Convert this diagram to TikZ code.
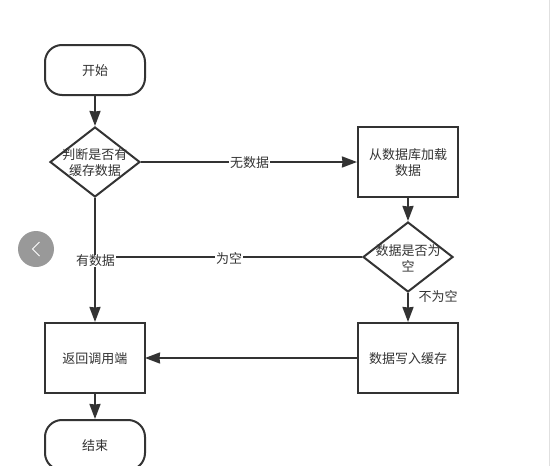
\documentclass[tikz,border=0pt]{standalone}
\usepackage{fontspec}
\setmainfont{Noto Sans CJK SC}
\usetikzlibrary{arrows.meta,shapes.geometric}
\definecolor{ink}{HTML}{333333}
\tikzset{
  every node/.style={font=\fontsize{13}{16}\selectfont,text=ink,align=center,inner sep=0pt},
  shapeline/.style={draw=ink,line width=2pt,fill=white},
  term/.style={shapeline,rounded corners=17pt,minimum width=100pt,minimum height=50pt},
  proc/.style={shapeline,minimum width=100pt,minimum height=70pt},
  deci/.style={shapeline,diamond,aspect=1.2857,minimum width=90pt,minimum height=70pt},
  flow/.style={draw=ink,line width=2pt,-{Stealth[length=15pt,width=11pt,inset=0.5pt]}},
  plain/.style={draw=ink,line width=2pt},
  lab/.style={fill=white,inner xsep=1pt,inner ysep=0pt}
}
\begin{document}
\begin{tikzpicture}[x=1pt,y=-1pt]
\useasboundingbox (0,0) rectangle (550,466);
\clip (0,0) rectangle (550,466);
\fill[white] (0,0) rectangle (550,466);
\node[term] (start) at (95,70) {};
\node[deci] (d1) at (95,162) {};
\node[proc] (load) at (408,162) {};
\node[deci] (d2) at (408,257) {};
\node[proc] (write) at (408,358) {};
\node[proc] (ret) at (95,358) {};
\node[term] (end) at (95,445) {};
\coordinate (join) at (95,257);
\node (tstart) at ([yshift=-1pt]start.center) {开始};
\node (td1) at ([yshift=-1pt]d1.center) {判断是否有\\缓存数据};
\node (tload) at ([yshift=-1pt]load.center) {从数据库加载\\数据};
\node (td2) at ([yshift=-1pt]d2.center) {数据是否为\\空};
\node (twrite) at ([yshift=-1pt]write.center) {数据写入缓存};
\node (tret) at ([yshift=-1pt]ret.center) {返回调用端};
\node (tend) at ([yshift=-1pt]end.center) {结束};
\draw[flow] (start) -- (d1);
\draw[flow] (d1) -- (load);
\draw[flow] (load) -- (d2);
\draw[flow] (d1) -- (ret);
\draw[plain] (d2) -- (join);
\draw[flow] (d2) -- (write);
\draw[flow] (write) -- ([xshift=-1pt]ret.east);
\draw[flow] (ret) -- (end);
\node[lab] (l1) at (249.5,163) {无数据};
\node[lab] (l2) at (95.5,261) {有数据};
\node[lab] (l3) at (229,258) {为空};
\node[lab] (l4) at (438,296.5) {不为空};
\fill[black!40] (36,249) circle (18pt);
\draw[white,line width=1pt] (39.5,242) -- (32.5,249) -- (39.5,256);
\draw[black!12,line width=1pt] (549,0) -- (549,466);
\end{tikzpicture}
\end{document}
